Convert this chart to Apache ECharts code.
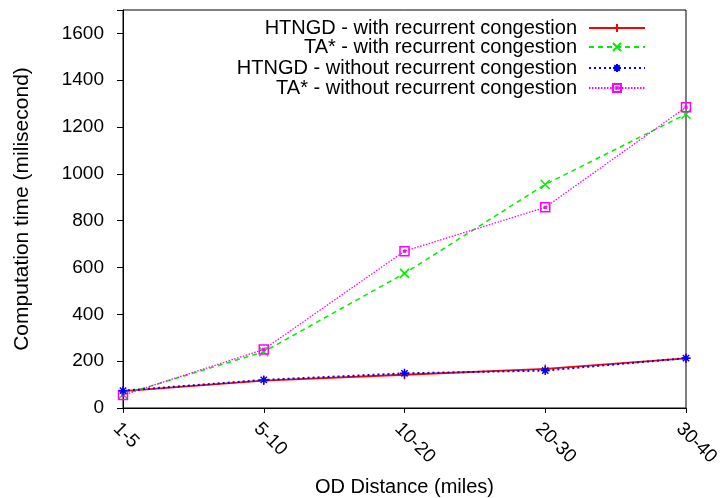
<!DOCTYPE html>
<html><head><meta charset="utf-8">
<script src="https://cdn.jsdelivr.net/npm/echarts@6/dist/echarts.min.js"></script>
<style>html,body{margin:0;padding:0;background:#fff}#c{width:727px;height:498px}</style>
</head><body><div id="c"></div>
<script>
var categories = ['1-5', '5-10', '10-20', '20-30', '30-40'];
var seriesNames = ['HTNGD - with recurrent congestion', 'TA* - with recurrent congestion', 'HTNGD - without recurrent congestion', 'TA* - without recurrent congestion'];
var htngdWith = [72, 117, 142, 167, 212];
var taWith = [58, 240, 575, 955, 1255];
var htngdWithout = [74, 120, 148, 160, 213];
var taWithout = [55, 250, 670, 857, 1285];
var yTicks = [0, 200, 400, 600, 800, 1000, 1200, 1400, 1600];

var FONT = '"Liberation Sans", Arial, sans-serif';
var colors = ['#ff0000', '#00ee00', '#0000ff', '#ff00ff'];
var symbols = [
  'path://M5,0L5,10M0,5L10,5',
  'path://M0,0L10,10M10,0L0,10',
  'path://M5,0L5,10M0,5L10,5M1.5,1.5L8.5,8.5M8.5,1.5L1.5,8.5',
  'path://M0,0L10,0L10,10L0,10ZM4,4L6,4L6,6L4,6Z'
];
var lineTypes = ['solid', [5, 4], [2, 3], [1.5, 1.5]];
var widths = [1.8, 1.5, 2, 1.3];
var datas = [htngdWith, taWith, htngdWithout, taWithout];

var series = datas.map(function (d, i) {
  return {
    name: seriesNames[i], type: 'line', data: d,
    symbol: symbols[i], symbolSize: 9,
    z: i === 2 ? 4 : 3,
    lineStyle: { color: colors[i], width: widths[i], type: lineTypes[i] },
    itemStyle: { color: i === 3 ? 'rgba(0,0,0,0)' : colors[i], borderColor: colors[i], borderWidth: 1.5 },
    emphasis: { disabled: true }, animation: false
  };
});

var legendTops = [18, 37, 58, 78];
var legends = seriesNames.map(function (n, i) {
  return {
    data: [n], right: 81, top: legendTops[i], align: 'right', orient: 'horizontal',
    itemWidth: 56, itemHeight: 10, itemGap: 0,
    textStyle: { fontFamily: FONT, fontSize: 20, color: '#000', padding: [0, 7, 0, 0] },
    selectedMode: false, padding: 0
  };
});

var chart = echarts.init(document.getElementById('c'), null, { renderer: 'canvas' });
chart.setOption({
  animation: false,
  backgroundColor: '#fff',
  grid: { left: 123, right: 41, top: 10, bottom: 90, show: true, borderColor: '#000', borderWidth: 1, containLabel: false, outerBoundsMode: 'none' },
  legend: legends,
  xAxis: {
    type: 'category', data: categories, boundaryGap: false,
    name: 'OD Distance (miles)', nameLocation: 'middle', nameGap: 69,
    nameTextStyle: { fontFamily: FONT, fontSize: 20, color: '#000' },
    axisLine: { lineStyle: { color: '#000', width: 1 } },
    axisTick: { show: true, length: 5, lineStyle: { color: '#000' }, alignWithLabel: true },
    axisLabel: { rotate: -45, margin: 11, align: 'left', verticalAlign: 'top', fontFamily: FONT, fontSize: 19, color: '#000' },
    splitLine: { show: false }
  },
  yAxis: {
    type: 'value', min: 0, max: 1700, interval: 200,
    name: 'Computation time (milisecond)', nameLocation: 'middle', nameGap: 90, nameRotate: 90,
    nameTextStyle: { fontFamily: FONT, fontSize: 21, color: '#000' },
    axisLine: { show: true, lineStyle: { color: '#000', width: 1 } },
    axisTick: { show: true, length: 6, lineStyle: { color: '#000' } },
    axisLabel: {
      margin: 19, fontFamily: FONT, fontSize: 19, color: '#000',
      formatter: function (v) { return yTicks.indexOf(v) >= 0 ? String(v) : ''; }
    },
    splitLine: { show: false }
  },
  series: series
});
</script></body></html>
